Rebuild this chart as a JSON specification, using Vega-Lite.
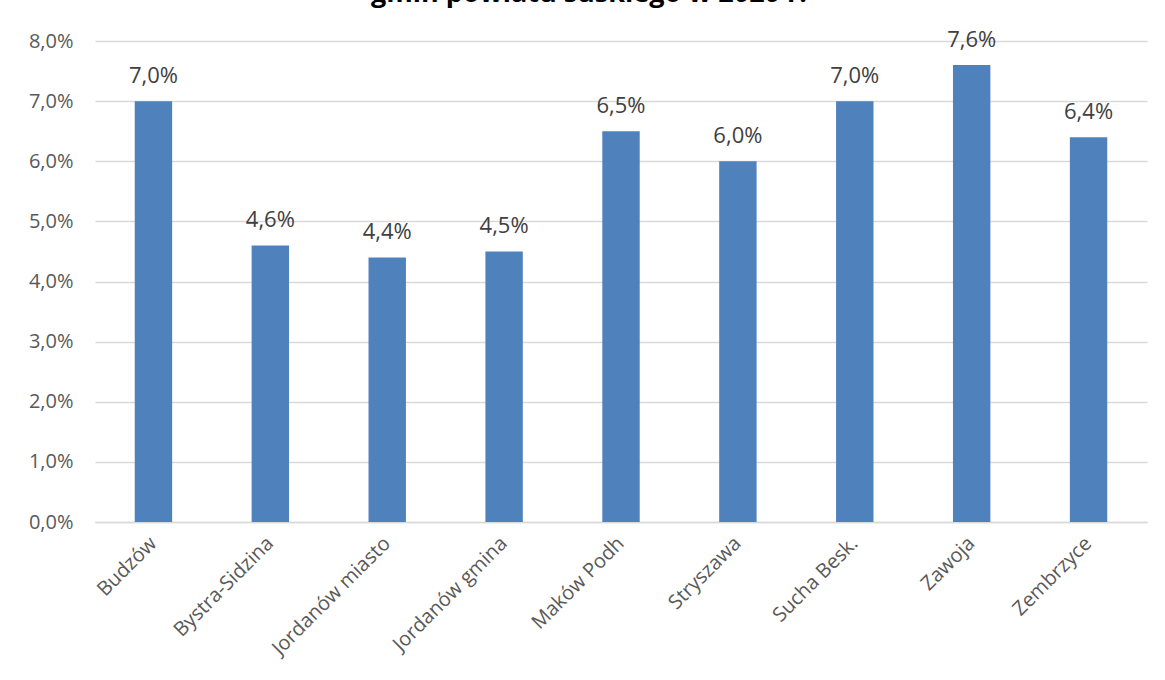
{
  "$schema": "https://vega.github.io/schema/vega-lite/v6.json",
  "autosize": {"type": "none"},
  "width": 1052,
  "height": 481,
  "padding": {"left": 95, "top": 41, "right": 18, "bottom": 158},
  "background": "white",
  "config": {
    "locale": {"number": {"decimal": ",", "thousands": " ", "grouping": [3], "currency": ["", " zł"]}},
    "view": {"stroke": null},
    "font": "Open Sans"
  },
  "title": {
    "text": "gmin powiatu suskiego w 2020 r.",
    "anchor": "middle",
    "dx": -32,
    "offset": 0,
    "baseline": "alphabetic",
    "fontSize": 27,
    "fontWeight": "bold",
    "color": "#000000",
    "font": "Open Sans"
  },
  "data": {
    "values": [
      {"gmina": "Budzów", "v": 0.070},
      {"gmina": "Bystra-Sidzina", "v": 0.046},
      {"gmina": "Jordanów miasto", "v": 0.044},
      {"gmina": "Jordanów gmina", "v": 0.045},
      {"gmina": "Maków Podh", "v": 0.065},
      {"gmina": "Stryszawa", "v": 0.060},
      {"gmina": "Sucha Besk.", "v": 0.070},
      {"gmina": "Zawoja", "v": 0.076},
      {"gmina": "Zembrzyce", "v": 0.064}
    ]
  },
  "encoding": {
    "x": {
      "field": "gmina", "type": "nominal", "sort": null,
      "scale": {"paddingInner": 0.68, "paddingOuter": 0.34},
      "axis": {
        "title": null, "labelAngle": -45, "labelAlign": "right", "labelBaseline": "middle",
        "labelFontSize": 20, "labelColor": "#595959", "labelPadding": 18, "labelOverlap": false,
        "ticks": false, "domainColor": "#d9d9d9", "domainWidth": 1.5
      }
    },
    "y": {
      "field": "v", "type": "quantitative",
      "scale": {"domain": [0, 0.08], "nice": false},
      "axis": {
        "title": null, "format": ".1%", "values": [0, 0.01, 0.02, 0.03, 0.04, 0.05, 0.06, 0.07, 0.08],
        "labelFontSize": 20, "labelColor": "#595959", "labelPadding": 22, "labelOverlap": false,
        "ticks": false, "domain": false, "gridColor": "#d9d9d9", "gridWidth": 1.5
      }
    }
  },
  "layer": [
    {"mark": {"type": "bar", "color": "#4f81bd"}},
    {
      "mark": {"type": "text", "dy": -25, "fontSize": 22, "color": "#404040", "baseline": "middle"},
      "encoding": {"text": {"field": "v", "type": "quantitative", "format": ".1%"}}
    }
  ]
}
